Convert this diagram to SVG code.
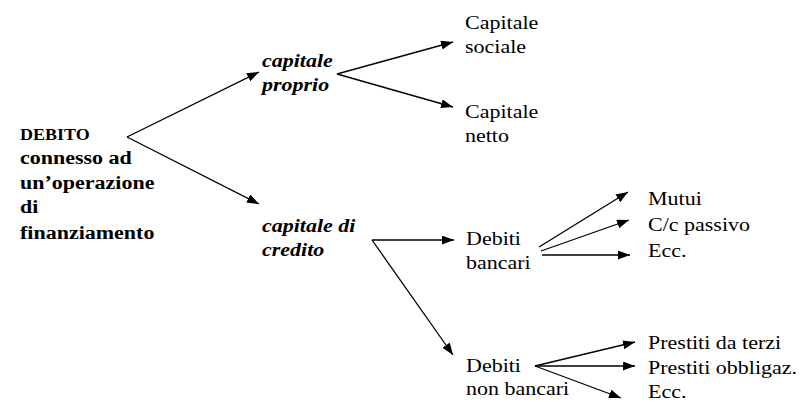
<svg xmlns="http://www.w3.org/2000/svg" width="800" height="402" viewBox="0 0 800 402" font-family="Liberation Serif, Times New Roman, serif">
<style>
text{font-family:'Liberation Serif','Times New Roman',serif;fill:#000;font-size:22px}
.b{font-weight:bold}
.bi{font-weight:bold;font-style:italic}
.s{font-size:18px}
.c line{stroke:#000;stroke-width:1.3;marker-end:url(#ah)}
</style>
<defs>
<marker id="ah" markerUnits="userSpaceOnUse" markerWidth="13" markerHeight="10" refX="12" refY="4.5" orient="auto">
<path d="M0,0 L12,4.5 L0,9 z" fill="#000"/>
</marker>
</defs>
<rect width="800" height="402" fill="#fff"/>
<g class="c" id="connectors">
<line x1="127" y1="137" x2="259" y2="72"/>
<line x1="127" y1="137" x2="259" y2="204"/>
<line x1="337" y1="74" x2="453" y2="42"/>
<line x1="337" y1="74" x2="453" y2="107"/>
<line x1="372" y1="240" x2="454" y2="240"/>
<line x1="372" y1="240" x2="453" y2="355"/>
<line x1="539" y1="247" x2="628" y2="192"/>
<line x1="541" y1="251" x2="629" y2="220"/>
<line x1="542" y1="255" x2="630" y2="255"/>
<line x1="535" y1="366" x2="635" y2="342"/>
<line x1="535" y1="366" x2="635" y2="366"/>
<line x1="535" y1="366" x2="621" y2="398"/>
</g>
<g id="debito">
<text class="b s" transform="translate(20,140) scale(1,0.88)">DEBITO</text>
<text class="b" transform="translate(20,164) scale(1,0.88)">connesso ad</text>
<text class="b" transform="translate(20,189) scale(1,0.88)">un’operazione</text>
<text class="b" transform="translate(20,213) scale(1,0.88)">di</text>
<text class="b" transform="translate(20,239) scale(1,0.88)">finanziamento</text>
</g>
<g id="capitale-proprio">
<text class="bi" transform="translate(262,67) scale(1,0.88)">capitale</text>
<text class="bi" transform="translate(262,91) scale(1,0.88)">proprio</text>
</g>
<g id="capitale-sociale">
<text transform="translate(465,29) scale(1,0.88)">Capitale</text>
<text transform="translate(465,53) scale(1,0.88)">sociale</text>
</g>
<g id="capitale-netto">
<text transform="translate(465,118) scale(1,0.88)">Capitale</text>
<text transform="translate(465,142) scale(1,0.88)">netto</text>
</g>
<g id="capitale-credito">
<text class="bi" transform="translate(262,232) scale(1,0.88)">capitale di</text>
<text class="bi" transform="translate(262,256) scale(1,0.88)">credito</text>
</g>
<g id="debiti-bancari">
<text transform="translate(466,245) scale(1,0.88)">Debiti</text>
<text transform="translate(466,269) scale(1,0.88)">bancari</text>
</g>
<g id="debiti-non-bancari">
<text transform="translate(466,372) scale(1,0.88)">Debiti</text>
<text transform="translate(466,395) scale(1,0.88)">non bancari</text>
</g>
<g id="mutui"><text transform="translate(648,205) scale(1,0.88)">Mutui</text></g>
<g id="cc-passivo"><text transform="translate(648,231) scale(1,0.88)">C/c passivo</text></g>
<g id="ecc1"><text transform="translate(648,257) scale(1,0.88)">Ecc.</text></g>
<g id="prestiti-terzi"><text transform="translate(648,349) scale(1,0.88)">Prestiti da terzi</text></g>
<g id="prestiti-obbligaz"><text transform="translate(648,374) scale(1,0.88)">Prestiti obbligaz.</text></g>
<g id="ecc2"><text transform="translate(648,398) scale(1,0.88)">Ecc.</text></g>
</svg>
